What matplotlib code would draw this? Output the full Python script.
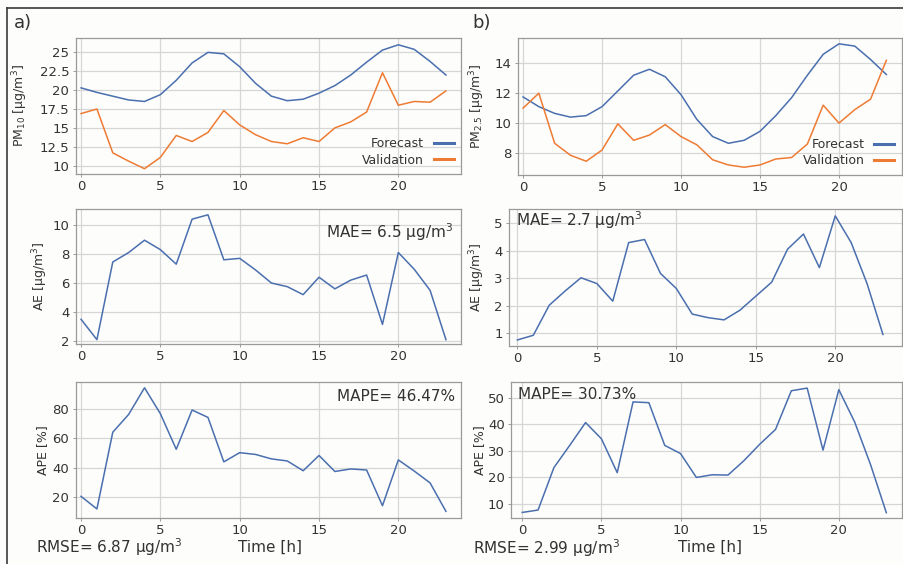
import matplotlib
matplotlib.use("Agg")
import matplotlib.pyplot as plt
from matplotlib.lines import Line2D

hours = list(range(24))

pm10_forecast = [20.3, 19.7, 19.2, 18.7, 18.5, 19.4, 21.3, 23.6, 25.0, 24.8, 23.1, 20.9,
                 19.2, 18.6, 18.8, 19.6, 20.6, 22.0, 23.7, 25.3, 26.0, 25.4, 23.8, 22.0]
pm10_validation = [16.9, 17.5, 11.7, 10.6, 9.6, 11.1, 14.0, 13.2, 14.4, 17.3, 15.4, 14.1,
                   13.2, 12.9, 13.7, 13.2, 15.0, 15.8, 17.1, 22.3, 18.0, 18.5, 18.4, 19.9]
pm10_ae = [3.5, 2.1, 7.45, 8.1, 8.95, 8.3, 7.3, 10.4, 10.7, 7.6, 7.7, 6.9,
           6.0, 5.75, 5.2, 6.4, 5.6, 6.2, 6.55, 3.15, 8.1, 6.95, 5.5, 2.1]
pm10_ape = [20.7, 12.2, 64.0, 76.0, 94.0, 76.5, 52.5, 79.0, 74.0, 44.0, 50.2, 49.0,
            46.0, 44.6, 38.0, 48.3, 37.5, 39.2, 38.5, 14.4, 45.3, 37.8, 29.8, 10.6]

pm25_forecast = [11.75, 11.1, 10.65, 10.4, 10.5, 11.1, 12.15, 13.2, 13.6, 13.1, 11.9, 10.25,
                 9.1, 8.65, 8.85, 9.45, 10.5, 11.7, 13.2, 14.6, 15.3, 15.15, 14.25, 13.25]
pm25_validation = [11.0, 12.0, 8.65, 7.85, 7.45, 8.2, 9.95, 8.85, 9.2, 9.9, 9.1, 8.55,
                   7.55, 7.2, 7.05, 7.2, 7.6, 7.7, 8.6, 11.2, 10.0, 10.9, 11.6, 14.2]
pm25_ae = [0.76, 0.93, 2.02, 2.54, 3.02, 2.81, 2.17, 4.3, 4.41, 3.18, 2.63, 1.7,
           1.57, 1.49, 1.84, 2.35, 2.86, 4.06, 4.61, 3.39, 5.27, 4.3, 2.81, 0.96]
pm25_ape = [6.7, 7.6, 23.6, 32.0, 40.6, 34.5, 21.7, 48.4, 48.1, 32.0, 28.9, 19.9,
            20.9, 20.8, 26.2, 32.4, 38.0, 52.6, 53.6, 30.2, 53.0, 40.8, 24.8, 6.6]

x_ticks = [0, 5, 10, 15, 20]
pm10_yticks = [10, 12.5, 15, 17.5, 20, 22.5, 25]
pm10_yticklabels = ["10", "12.5", "15", "17.5", "20", "22.5", "25"]
pm25_yticks = [8, 10, 12, 14]
ae10_yticks = [2, 4, 6, 8, 10]
ae25_yticks = [1, 2, 3, 4, 5]
ape10_yticks = [20, 40, 60, 80]
ape25_yticks = [10, 20, 30, 40, 50]

BLUE = "#4a6fae"
ORANGE = "#ee7b33"
TXT = "#333333"
GRID = "#d6d6d6"
SPINE = "#9a9a9a"
BG = "#fdfdfc"

W, H = 904, 564
fig = plt.figure(figsize=(W / 100, H / 100), dpi=100, facecolor=BG)


def px_axes(left, top, right, bottom):
    return fig.add_axes([left / W, 1 - bottom / H, (right - left) / W, (bottom - top) / H])


def style(ax, xlim, ylim, yticks, yticklabels=None):
    ax.set_facecolor(BG)
    ax.set_xlim(*xlim)
    ax.set_ylim(*ylim)
    ax.set_xticks(x_ticks)
    ax.set_yticks(yticks)
    if yticklabels is not None:
        ax.set_yticklabels(yticklabels)
    ax.grid(True, color=GRID, linewidth=0.9)
    ax.set_axisbelow(True)
    for s in ax.spines.values():
        s.set_color(SPINE)
        s.set_linewidth(0.9)
    ax.tick_params(labelsize=9.5, colors=TXT, length=2.5, width=0.7, pad=2,
                   color=SPINE)


def fig_text(x, y, s, **kw):
    fig.text(x / W, 1 - y / H, s, color=TXT, **kw)


# ---- left column (PM10) ----
ax1 = px_axes(75.5, 38, 461, 174)
ax1.plot(hours, pm10_forecast, color=BLUE, lw=1.1, label="Forecast")
ax1.plot(hours, pm10_validation, color=ORANGE, lw=1.1, label="Validation")
style(ax1, (-0.35, 23.95), (8.9, 26.9), pm10_yticks, pm10_yticklabels)
ax1.set_ylabel(r"PM$_{10}$ [μg/m$^3$]", fontsize=9, color=TXT)
ax1.yaxis.set_label_coords(-0.118, 0.5)

ax2 = px_axes(75.5, 209, 461, 344)
ax2.plot(hours, pm10_ae, color=BLUE, lw=1.1)
style(ax2, (-0.35, 23.95), (1.8, 11.1), ae10_yticks)
ax2.set_ylabel(r"AE [μg/m$^3$]", fontsize=9, color=TXT)
ax2.yaxis.set_label_coords(-0.066, 0.5)

ax3 = px_axes(75.5, 382, 461, 518)
ax3.plot(hours, pm10_ape, color=BLUE, lw=1.1)
style(ax3, (-0.35, 23.95), (6.1, 97.9), ape10_yticks)
ax3.set_ylabel("APE [%]", fontsize=9, color=TXT)
ax3.yaxis.set_label_coords(-0.069, 0.5)

# ---- right column (PM2.5) ----
ax4 = px_axes(518, 38, 902, 175)
ax4.plot(hours, pm25_forecast, color=BLUE, lw=1.1, label="Forecast")
ax4.plot(hours, pm25_validation, color=ORANGE, lw=1.1, label="Validation")
style(ax4, (-0.32, 23.99), (6.53, 15.69), pm25_yticks)
ax4.set_ylabel(r"PM$_{2.5}$ [μg/m$^3$]", fontsize=9, color=TXT)
ax4.yaxis.set_label_coords(-0.081, 0.5)

ax5 = px_axes(509, 209, 902, 346)
ax5.plot(hours, pm25_ae, color=BLUE, lw=1.1)
style(ax5, (-0.53, 24.2), (0.54, 5.52), ae25_yticks)
ax5.set_ylabel(r"AE [μg/m$^3$]", fontsize=9, color=TXT)
ax5.yaxis.set_label_coords(-0.056, 0.5)

ax6 = px_axes(511, 382, 902, 518)
ax6.plot(hours, pm25_ape, color=BLUE, lw=1.1)
style(ax6, (-0.71, 23.99), (4.6, 55.9), ape25_yticks)
ax6.set_ylabel("APE [%]", fontsize=9, color=TXT)
ax6.yaxis.set_label_coords(-0.064, 0.5)

# legends
for ax in (ax1, ax4):
    handles = [Line2D([], [], color=BLUE, lw=2.2), Line2D([], [], color=ORANGE, lw=2.2)]
    leg = ax.legend(handles, ["Forecast", "Validation"], loc="lower right", frameon=False,
                    markerfirst=False, fontsize=9, handlelength=1.6, handletextpad=0.8,
                    labelspacing=0.25, borderaxespad=0.2)
    for t in leg.get_texts():
        t.set_color(TXT)

# annotations
fig_text(14, 28, "a)", fontsize=13, va="baseline")
fig_text(472, 28, "b)", fontsize=13, va="baseline")
fig_text(453, 238, r"MAE= 6.5 μg/m$^3$", fontsize=11, ha="right", va="baseline")
fig_text(516, 226, r"MAE= 2.7 μg/m$^3$", fontsize=11, ha="left", va="baseline")
fig_text(455, 401, "MAPE= 46.47%", fontsize=11, ha="right", va="baseline")
fig_text(518, 399, "MAPE= 30.73%", fontsize=11, ha="left", va="baseline")
fig_text(36, 553, r"RMSE= 6.87 μg/m$^3$", fontsize=11, ha="left", va="baseline")
fig_text(473, 554, r"RMSE= 2.99 μg/m$^3$", fontsize=11, ha="left", va="baseline")
fig_text(270, 552, "Time [h]", fontsize=11, ha="center", va="baseline")
fig_text(710, 552, "Time [h]", fontsize=11, ha="center", va="baseline")

# outer frame (partially cropped in the reference)
fig.add_artist(Line2D([7 / W, 7 / W], [0, 1 - 8 / H], color="#3a3a3a", lw=1.2,
                      transform=fig.transFigure))
fig.add_artist(Line2D([7 / W, 1], [1 - 8 / H, 1 - 8 / H], color="#3a3a3a", lw=1.2,
                      transform=fig.transFigure))

fig.savefig("out.png", dpi=100, facecolor=BG)
